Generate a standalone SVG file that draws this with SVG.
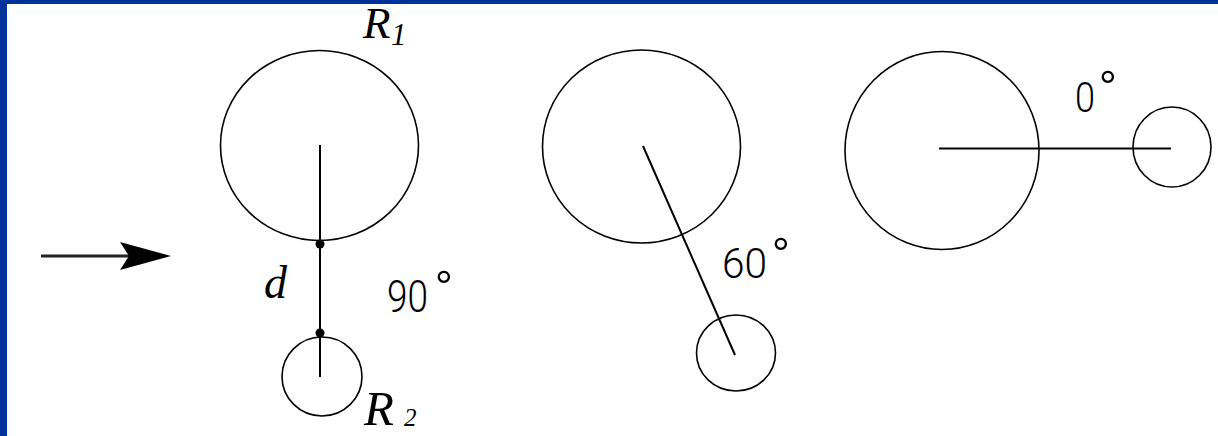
<svg xmlns="http://www.w3.org/2000/svg" width="1218" height="436" viewBox="0 0 1218 436">
<style>
.c{fill:none;stroke:#000;stroke-width:1.6}
.ln{stroke:#000;stroke-width:2;fill:none}
.it{font-family:"Liberation Serif",serif;font-style:italic;fill:#000}
.num{font-family:Roboto,"Liberation Sans",sans-serif;font-weight:300;fill:#000}
.deg{font-size:52px}
</style>
<defs>
<marker id="ah" markerUnits="userSpaceOnUse" markerWidth="52" markerHeight="30" refX="9" refY="15" orient="auto">
<path d="M0,1 L51,15 L0,29 L9,15 Z" fill="#000"/>
</marker>
</defs>
<rect width="1218" height="436" fill="#fff"/>
<rect x="0" y="0" width="1218" height="4" fill="#003399"/>
<rect x="0" y="0" width="7" height="436" fill="#003399"/>

<g id="connectors">
<line x1="41" y1="256" x2="129" y2="256" stroke="#222" stroke-width="3" marker-end="url(#ah)"/>
<line class="ln" x1="320" y1="145" x2="320" y2="377"/>
<circle cx="320" cy="244" r="4.5" fill="#000"/>
<circle cx="320" cy="333" r="4.5" fill="#000"/>
<line class="ln" x1="643" y1="146" x2="735" y2="355" stroke-width="1.6"/>
<line class="ln" x1="939" y1="148.5" x2="1171" y2="148.5"/>
</g>

<g id="big1"><ellipse class="c" cx="319.5" cy="145.5" rx="99" ry="95"/></g>
<g id="small1"><ellipse class="c" cx="322" cy="376.5" rx="40" ry="39.5"/></g>
<g id="big2"><ellipse class="c" cx="641.5" cy="146.5" rx="99" ry="96.5"/></g>
<g id="small2"><ellipse class="c" cx="736" cy="353" rx="39.5" ry="38"/></g>
<g id="big3"><ellipse class="c" cx="942" cy="150.5" rx="97" ry="99"/></g>
<g id="small3"><ellipse class="c" cx="1172" cy="147" rx="39" ry="40"/></g>

<g id="labels">
<text class="it" x="363" y="38" font-size="45">R</text>
<text class="it" x="391" y="45" font-size="31">1</text>
<text class="it" x="364" y="425" font-size="49">R</text>
<text class="it" x="404" y="426" font-size="25">2</text>
<text class="it" x="264" y="298" font-size="46">d</text>
<text class="num" x="387" y="312" font-size="44"><tspan textLength="41" lengthAdjust="spacingAndGlyphs">90</tspan><tspan class="deg" x="434" y="308">°</tspan></text>
<text class="num" x="722" y="278" font-size="42"><tspan textLength="45" lengthAdjust="spacingAndGlyphs">60</tspan><tspan class="deg" x="771" y="275">°</tspan></text>
<text class="num" x="1075" y="112" font-size="42"><tspan textLength="20" lengthAdjust="spacingAndGlyphs">0</tspan><tspan class="deg" x="1098" y="108">°</tspan></text>
</g>
</svg>
